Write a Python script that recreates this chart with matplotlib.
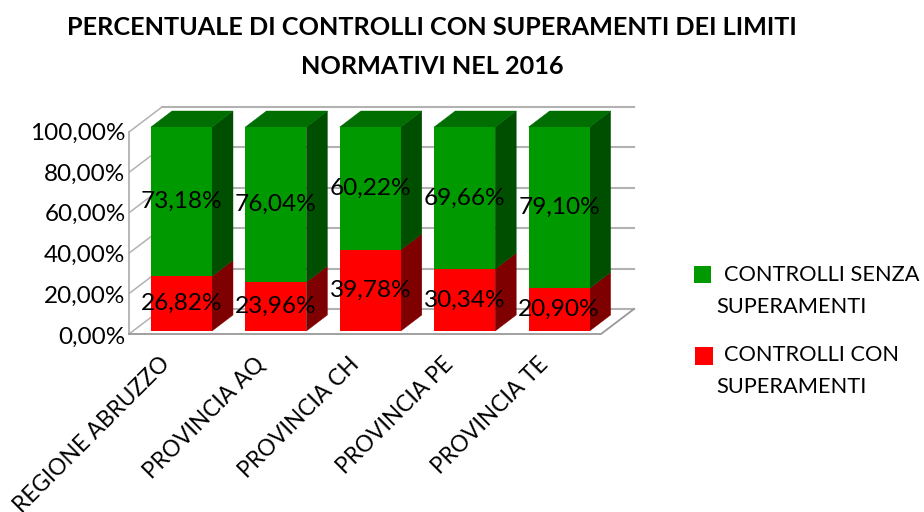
import matplotlib.pyplot as plt
from matplotlib.patches import Polygon, Rectangle
from matplotlib.transforms import ScaledTranslation

plt.rcParams['font.family'] = ['Lato', 'DejaVu Sans']

# dati
categorie = ['REGIONE ABRUZZO', 'PROVINCIA AQ', 'PROVINCIA CH', 'PROVINCIA PE', 'PROVINCIA TE']
con_superamenti = [26.82, 23.96, 39.78, 30.34, 20.90]
senza_superamenti = [73.18, 76.04, 60.22, 69.66, 79.10]
tick_valori = [0, 20, 40, 60, 80, 100]
tick_etichette = ['0,00%', '20,00%', '40,00%', '60,00%', '80,00%', '100,00%']

W, H = 924, 512
PX_X = 94.4   # pixel per categoria
PX_Y = 2.04   # pixel per punto percentuale
LARGHEZZA = 61 / PX_X
DX_BAR, DY_BAR = 21 / PX_X, 16 / PX_Y   # profondita barre
DX_WALL, DY_WALL = 33 / PX_X, 25 / PX_Y  # profondita pareti
GRIGIO = '#B2B2B2'

fig = plt.figure(figsize=(W / 100, H / 100), dpi=100)
left, right, bottom, top = 129, 601, 331, 127
ax = fig.add_axes([left / W, 1 - bottom / H, (right - left) / W, (bottom - top) / H])
x0 = (left - 181.5) / PX_X
x1 = (right - 181.5) / PX_X
ax.set_xlim(x0, x1)
ax.set_ylim(0, 100)
for s in ax.spines.values():
    s.set_visible(False)


def griglia(g):
    # la griglia ha una scala leggermente diversa dalle barre
    return (2.02 * g - 3) / PX_Y


# pareti e griglia
for g in tick_valori:
    y = griglia(g)
    ax.plot([x0, x0 + DX_WALL], [y, y + DY_WALL], color=GRIGIO, lw=1.1, clip_on=False, zorder=1)
    ax.plot([x0 + DX_WALL, x1 + DX_WALL], [y + DY_WALL, y + DY_WALL], color=GRIGIO, lw=1.5, clip_on=False, zorder=1)
ax.plot([x0, x0], [griglia(0), griglia(100)], color=GRIGIO, lw=1.3, clip_on=False, zorder=1)
ax.plot([x0, x1, x1 + DX_WALL], [griglia(0), griglia(0), griglia(0) + DY_WALL],
        color='#999999', lw=1.3, clip_on=False, zorder=1)


def faccia(xs, ys, colore):
    ax.add_patch(Polygon(list(zip(xs, ys)), closed=True, facecolor=colore, edgecolor=colore,
                         lw=0.3, clip_on=False, zorder=2))


# barre 3D
posizioni = list(range(len(categorie)))
BASE = 0
for i in posizioni:
    a, b = i - LARGHEZZA / 2, i + LARGHEZZA / 2
    r = con_superamenti[i]
    g = senza_superamenti[i]
    faccia([b, b + DX_BAR, b + DX_BAR, b], [BASE, BASE + DY_BAR, r + DY_BAR, r], '#7F0000')
    faccia([b, b + DX_BAR, b + DX_BAR, b], [r, r + DY_BAR, r + g + DY_BAR, r + g], '#004F00')
    faccia([a, a + DX_BAR, b + DX_BAR, b], [r + g, r + g + DY_BAR, r + g + DY_BAR, r + g], '#006E00')

ax.bar(posizioni, con_superamenti, width=LARGHEZZA, color='#FF0000', clip_on=False, zorder=3)
ax.bar(posizioni, senza_superamenti, width=LARGHEZZA, bottom=con_superamenti, color='#009900',
       clip_on=False, zorder=3)

# etichette dati
for i in posizioni:
    r = con_superamenti[i]
    g = senza_superamenti[i]
    ax.text(i, r / 2, f'{r:.2f}%'.replace('.', ','), ha='center', va='center',
            fontsize=17.6, color='black', zorder=5, clip_on=False)
    ax.text(i, r + g / 2, f'{g:.2f}%'.replace('.', ','), ha='center', va='center',
            fontsize=17.6, color='black', zorder=5, clip_on=False)

# assi
ax.set_yticks(tick_valori)
ax.set_yticklabels(tick_etichette, fontsize=17.5)
ax.tick_params(axis='y', length=0, pad=2.5)
sposta = ScaledTranslation(0, -3 / 72, fig.dpi_scale_trans)
for lab in ax.get_yticklabels():
    lab.set_transform(lab.get_transform() + sposta)

ax.set_xticks(posizioni)
ax.set_xticklabels(categorie, fontsize=16.3, rotation=45, ha='right', rotation_mode='anchor')
ax.tick_params(axis='x', length=0, pad=16)
sposta_x = ScaledTranslation(-16 / 72, 0, fig.dpi_scale_trans)
for lab in ax.get_xticklabels():
    lab.set_transform(lab.get_transform() + sposta_x)

# titolo
fig.text(432 / W, 1 - 47 / H, 'PERCENTUALE DI CONTROLLI CON SUPERAMENTI DEI LIMITI\nNORMATIVI NEL 2016',
         ha='center', va='center', fontsize=18.2, fontweight='bold', linespacing=1.85)

# legenda
for y, h, x, w, colore in [(266, 17, 694, 17, '#009900'), (347, 18, 695, 18, '#FF0000')]:
    fig.patches.append(Rectangle((x / W, 1 - (y + h) / H), w / W, h / H, transform=fig.transFigure,
                                 facecolor=colore, edgecolor='none'))
for x, y, testo in [(724, 275, 'CONTROLLI SENZA'), (716, 307, 'SUPERAMENTI'),
                    (724, 355, 'CONTROLLI CON'), (716, 387, 'SUPERAMENTI')]:
    fig.text(x / W, 1 - y / H, testo, ha='left', va='center', fontsize=15.7)

plt.savefig('out.png', dpi=100)
